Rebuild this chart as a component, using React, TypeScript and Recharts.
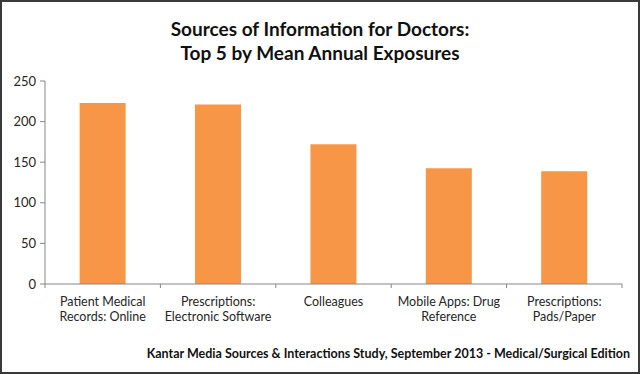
import { Bar, BarChart, XAxis, YAxis } from "recharts";

const sources = [
  "Patient Medical\nRecords: Online",
  "Prescriptions:\nElectronic Software",
  "Colleagues",
  "Mobile Apps: Drug\nReference",
  "Prescriptions:\nPads/Paper"
];
const exposures = [223, 221, 172, 142.5, 139];
const yTicks = [0, 50, 100, 150, 200, 250];

const data = sources.map((name, i) => ({ name, value: exposures[i] }));

const FONT = "Lato, 'Open Sans', sans-serif";
const AXIS_COLOR = "#868686";

// Excel puts the category tick marks between bars, so draw them from the tick itself
function SourceTick(props: any) {
  const { x, y, payload, index, width, visibleTicksCount } = props;
  const lines = String(payload.value).split("\n");
  const half = width && visibleTicksCount ? width / visibleTicksCount / 2 : payload.offset ?? 0;
  return (
    <g>
      {half > 0 && <line x1={x - half} x2={x - half} y1={y} y2={y + 4} stroke={AXIS_COLOR} />}
      {half > 0 && index === sources.length - 1 && (
        <line x1={x + half} x2={x + half} y1={y} y2={y + 4} stroke={AXIS_COLOR} />
      )}
      <text x={x} y={y + 22} textAnchor="middle" fill="#262626" fontSize={12.5} fontFamily={FONT}>
        {lines.map((line, i) => (
          <tspan key={line} x={x} dy={i === 0 ? 0 : 15}>
            {line}
          </tspan>
        ))}
      </text>
    </g>
  );
}

export default function App() {
  return (
    <div style={{ position: "relative", width: 640, height: 374, background: "#fff", fontFamily: FONT }}>
      <style>{"body{margin:0}"}</style>
      <div
        style={{
          position: "absolute",
          top: 0,
          width: "100%",
          textAlign: "center",
          fontWeight: 700,
          fontSize: 19,
          lineHeight: "24px",
          color: "#111",
          paddingTop: 17
        }}
      >
        <div>Sources of Information for Doctors:</div>
        <div>Top 5 by Mean Annual Exposures</div>
      </div>
      <div style={{ position: "absolute", top: 0, left: 0 }}>
        <BarChart width={640} height={374} data={data} margin={{ top: 81, right: 18, bottom: 60, left: 0 }} barCategoryGap="30%">
          <XAxis
            dataKey="name"
            interval={0}
            height={30}
            tick={<SourceTick />}
            tickLine={false}
            tickSize={0}
            tickMargin={0}
            axisLine={{ stroke: AXIS_COLOR }}
          />
          <YAxis
            width={45}
            domain={[0, 250]}
            ticks={yTicks}
            tickSize={5}
            tickMargin={4}
            axisLine={{ stroke: AXIS_COLOR }}
            tickLine={{ stroke: AXIS_COLOR }}
            tick={{ fill: "#262626", fontSize: 13, fontFamily: FONT }}
          />
          <Bar dataKey="value" fill="#F79646" isAnimationActive={false} />
        </BarChart>
      </div>
      <div
        style={{
          position: "absolute",
          right: 10,
          top: 346,
          fontWeight: 700,
          fontSize: 12.5,
          color: "#111",
          whiteSpace: "nowrap"
        }}
      >
        Kantar Media Sources &amp; Interactions Study, September 2013 - Medical/Surgical Edition
      </div>
      <div
        style={{
          position: "absolute",
          inset: 0,
          border: "2px solid #3a3a3a",
          pointerEvents: "none"
        }}
      />
    </div>
  );
}
